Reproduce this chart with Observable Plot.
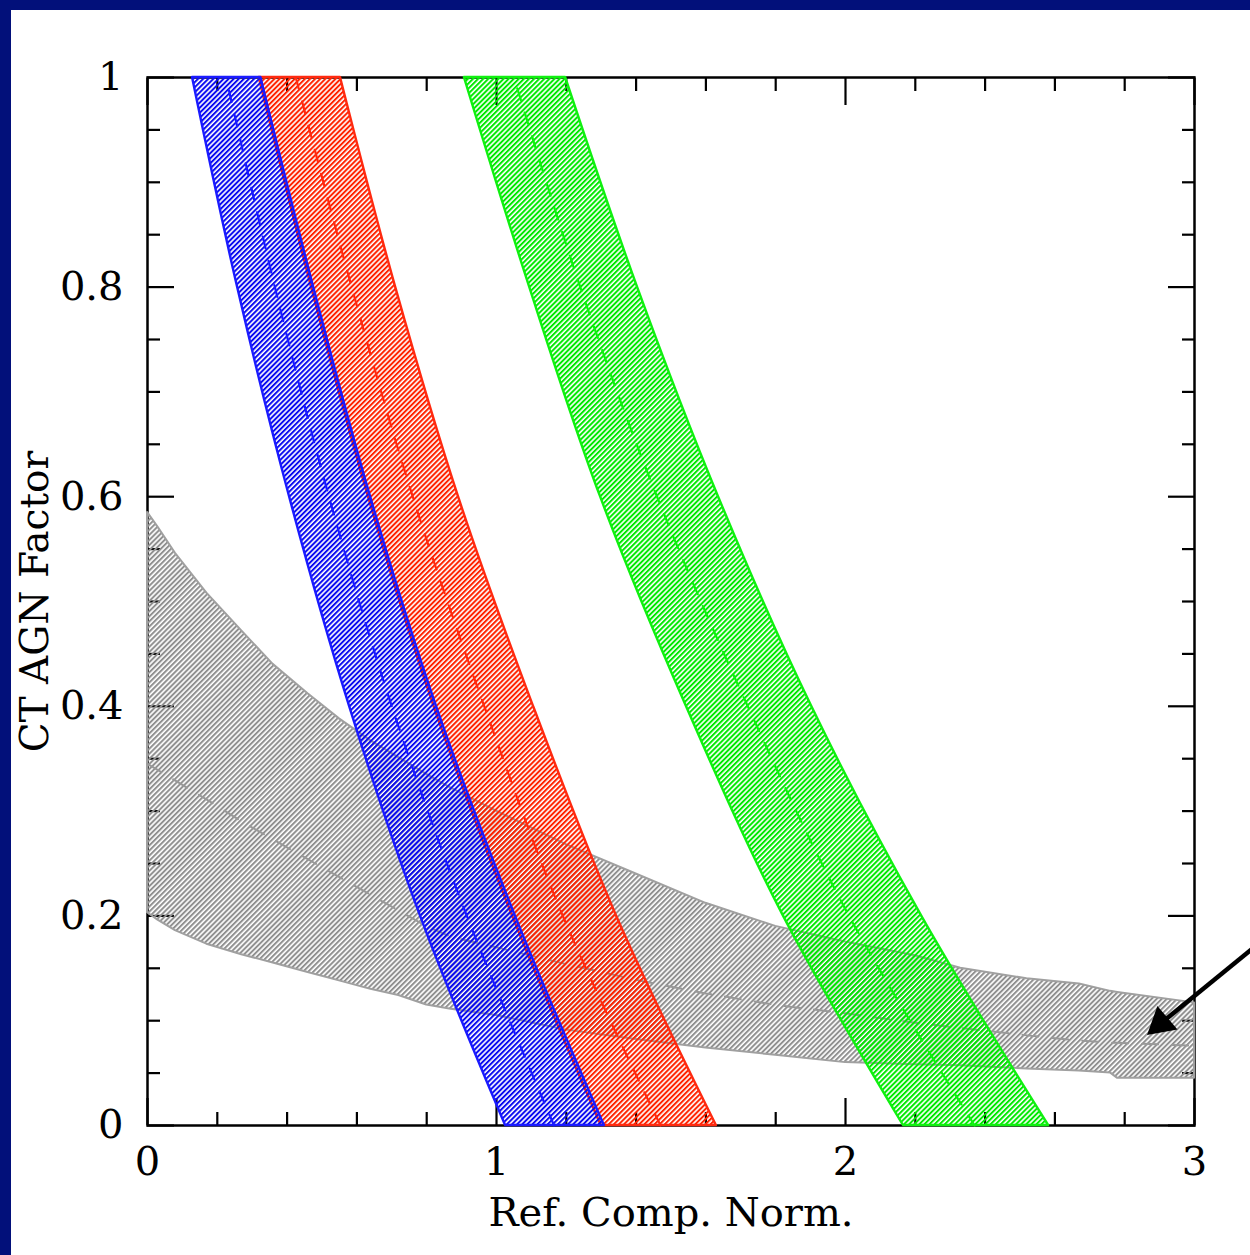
<!DOCTYPE html>
<html><head><meta charset="utf-8">
<script src="https://cdn.jsdelivr.net/npm/d3@7"></script>
<script src="https://cdn.jsdelivr.net/npm/@observablehq/plot@0.6"></script>
<style>
html,body{margin:0;padding:0;background:#02107a;width:1250px;height:1255px;overflow:hidden}
#chart{position:absolute;left:11px;top:10px;width:1239px;height:1245px;background:#fff;overflow:hidden}
</style></head><body><div id="chart"></div><script>
// ---- data ----
const yGrid = [0, 0.2, 0.4, 0.6, 0.8, 1];
const blueLeft  = [1.026, 0.782, 0.579, 0.407, 0.258, 0.129];
const blueRight = [1.309, 1.054, 0.828, 0.639, 0.476, 0.325];
const blueMid   = [1.165, 0.915, 0.700, 0.520, 0.365, 0.225];
const redLeft   = [1.300, 1.046, 0.821, 0.633, 0.470, 0.320];
const redRight  = [1.630, 1.344, 1.106, 0.891, 0.711, 0.553];
const redMid    = [1.470, 1.190, 0.965, 0.760, 0.585, 0.425];
const greenLeft  = [2.166, 1.822, 1.544, 1.298, 1.095, 0.908];
const greenRight = [2.582, 2.218, 1.903, 1.636, 1.404, 1.198];
const greenMid   = [2.370, 2.010, 1.720, 1.460, 1.240, 1.050];

const grayX  = [0, 0.03, 0.08, 0.17, 0.27, 0.36, 0.46, 0.55, 0.64, 0.72, 0.8, 0.87, 1.0, 1.2, 1.4, 1.6, 1.8, 2.0, 2.2, 2.33, 2.52, 2.67, 2.76, 2.78, 3.0];
const grayHi = [0.585, 0.571, 0.546, 0.508, 0.472, 0.440, 0.412, 0.388, 0.367, 0.351, 0.335, 0.322, 0.300, 0.268, 0.240, 0.212, 0.190, 0.175, 0.162, 0.150, 0.140, 0.135, 0.128, 0.127, 0.117];
const grayLo = [0.203, 0.196, 0.186, 0.173, 0.163, 0.155, 0.146, 0.138, 0.130, 0.124, 0.115, 0.111, 0.105, 0.091, 0.082, 0.074, 0.067, 0.060, 0.058, 0.057, 0.054, 0.052, 0.050, 0.045, 0.045];
const grayMid = [0.345, 0.339, 0.329, 0.311, 0.290, 0.273, 0.254, 0.237, 0.220, 0.205, 0.190, 0.180, 0.170, 0.154, 0.139, 0.126, 0.115, 0.107, 0.098, 0.093, 0.086, 0.081, 0.079, 0.079, 0.076];

const xMajorTicks = [0, 1, 2, 3];
const xMinorTicks = [0.2, 0.4, 0.6, 0.8, 1.2, 1.4, 1.6, 1.8, 2.2, 2.4, 2.6, 2.8];
const yMajorTicks = [0, 0.2, 0.4, 0.6, 0.8, 1];
const yMajorLabels = ["0", "0.2", "0.4", "0.6", "0.8", "1"];
const yMinorTicks = [0.05, 0.1, 0.15, 0.25, 0.3, 0.35, 0.45, 0.5, 0.55, 0.65, 0.7, 0.75, 0.85, 0.9, 0.95];

const xTitle = "Ref. Comp. Norm.";
const yTitle = "CT AGN Factor";

// arrow annotation (data coordinates)
const arrowStart = {x: 3.2, y: 0.178};
const arrowHead  = {x: 2.903, y: 0.0973};

// ---- colours ----
const BLUE = "#1a1aff", RED = "#ff2a10", GREEN = "#10f010", GRAY = "#a0a0a0";

const band = (L, R, M) => yGrid.map((y, i) => ({y, x1: L[i], x2: R[i], xm: M[i]}));
const blue = band(blueLeft, blueRight, blueMid);
const red = band(redLeft, redRight, redMid);
const green = band(greenLeft, greenRight, greenMid);
const gray = grayX.map((x, i) => ({x, lo: grayLo[i], hi: grayHi[i], mid: grayMid[i]}));

const FONT = "DejaVu Serif";
const tick = {stroke: "black", strokeWidth: 2.2};

const svg = Plot.plot({
  width: 1239, height: 1245,
  marginLeft: 136, marginRight: 56, marginTop: 67, marginBottom: 130,
  x: {domain: [0, 3], axis: null},
  y: {domain: [0, 1], axis: null},
  style: {fontFamily: FONT, background: "white", color: "black"},
  marks: [
    // ticks (inward) on all four sides
    Plot.axisX(xMinorTicks, {anchor: "bottom", tickSize: -13, tickFormat: () => "", ...tick}),
    Plot.axisX(xMinorTicks, {anchor: "top", tickSize: -13, tickFormat: () => "", ...tick}),
    Plot.axisX(xMajorTicks, {anchor: "bottom", tickSize: -27, tickFormat: () => "", ...tick}),
    Plot.axisX(xMajorTicks, {anchor: "top", tickSize: -27, tickFormat: () => "", ...tick}),
    Plot.axisY(yMinorTicks, {anchor: "left", tickSize: -13, tickFormat: () => "", ...tick}),
    Plot.axisY(yMinorTicks, {anchor: "right", tickSize: -13, tickFormat: () => "", ...tick}),
    Plot.axisY(yMajorTicks, {anchor: "left", tickSize: -27, tickFormat: () => "", ...tick}),
    Plot.axisY(yMajorTicks, {anchor: "right", tickSize: -27, tickFormat: () => "", ...tick}),
    // tick labels
    Plot.axisX(xMajorTicks, {anchor: "bottom", tickSize: 0, tickPadding: 21, fontSize: 40, fontFamily: FONT, tickFormat: d => String(d)}),
    Plot.axisY(yMajorTicks, {anchor: "left", tickSize: 0, tickPadding: 24, fontSize: 40, fontFamily: FONT, tickFormat: d => yMajorLabels[yMajorTicks.indexOf(d)]}),
    Plot.frame({stroke: "black", strokeWidth: 2.5}),
    // gray band
    Plot.areaY(gray, {x: "x", y1: "lo", y2: "hi", fill: "url(#hatch-gray)", stroke: GRAY, strokeWidth: 2}),
    Plot.lineY(gray, {x: "x", y: "mid", stroke: "#999999", strokeWidth: 2, strokeDasharray: "16,14"}),
    // green band
    Plot.areaX(green, {y: "y", x1: "x1", x2: "x2", fill: "url(#hatch-green)", stroke: GREEN, strokeWidth: 2.4, curve: "catmull-rom"}),
    Plot.lineX(green, {y: "y", x: "xm", stroke: GREEN, strokeWidth: 2.2, strokeDasharray: "12,13", curve: "catmull-rom"}),
    // red band
    Plot.areaX(red, {y: "y", x1: "x1", x2: "x2", fill: "url(#hatch-red)", stroke: RED, strokeWidth: 2.4, curve: "catmull-rom"}),
    Plot.lineX(red, {y: "y", x: "xm", stroke: RED, strokeWidth: 2.2, strokeDasharray: "12,13", curve: "catmull-rom"}),
    // blue band
    Plot.areaX(blue, {y: "y", x1: "x1", x2: "x2", fill: "url(#hatch-blue)", stroke: BLUE, strokeWidth: 2.4, curve: "catmull-rom"}),
    Plot.lineX(blue, {y: "y", x: "xm", stroke: BLUE, strokeWidth: 2.2, strokeDasharray: "12,13", curve: "catmull-rom"}),
    // axis titles
    Plot.text([xTitle], {frameAnchor: "bottom", dy: 100, fontSize: 40, fontFamily: FONT, fill: "black", textAnchor: "middle", letterSpacing: "1px"}),
    Plot.text([yTitle], {frameAnchor: "left", dx: -112, rotate: -90, fontSize: 39, fontFamily: FONT, fill: "black", textAnchor: "middle", letterSpacing: "0.8px"}),
    // arrow
    Plot.link([{a: arrowStart, b: arrowHead}], {x1: d => d.a.x, y1: d => d.a.y, x2: d => d.b.x, y2: d => d.b.y, stroke: "black", strokeWidth: 4.5}),
    Plot.dot([arrowHead], {x: "x", y: "y", symbol: "triangle", r: 11.5, fill: "black", stroke: "none", rotate: 229.6})
  ]
});

const defs = d3.select(svg).insert("defs", ":first-child");
[["hatch-blue", "#0a0af0"], ["hatch-red", "#ff2200"], ["hatch-green", "#00e800"], ["hatch-gray", "#909090"]].forEach(([id, c]) => {
  const p = defs.append("pattern").attr("id", id)
    .attr("patternUnits", "userSpaceOnUse")
    .attr("width", 3.6).attr("height", 3.6)
    .attr("patternTransform", "rotate(45)");
  p.append("rect").attr("x", 0).attr("y", 0).attr("width", 2.0).attr("height", 3.6).attr("fill", c);
});

document.getElementById("chart").appendChild(svg);
</script></body></html>
